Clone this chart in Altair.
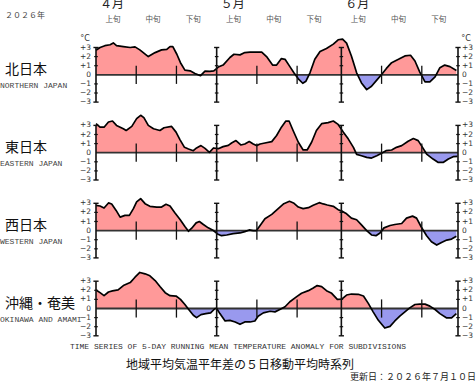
import altair as alt
import pandas as pd

# Positions are in days counted from the start of 1 April (30 = 1 May, 61 = 1 June, 90 = end of June).
north_days = [0, 1.0, 2.2, 3.5, 4.3, 5.1, 6.8, 8.5, 9.7, 10.9, 13.0, 14.7, 16.3, 17.6, 18.4, 19.1, 20.1, 21.0,
              22.1, 23.4, 24.6, 26.0, 27.1, 28.3, 29.3, 30.4, 31.6, 33.3, 34.3, 35.8, 37.0, 38.3, 39.9, 41.2,
              42.4, 43.9, 44.9, 46.1, 47.0, 48.2, 49.2, 50.3, 51.4, 52.2, 53.2, 54.4, 55.7, 57.3, 59.0, 60.2,
              61.3, 62.3, 63.5, 64.8, 66.0, 67.3, 68.5, 69.8, 71.0, 72.2, 73.5, 75.2, 76.8, 78.2, 79.3, 80.5,
              81.8, 83.0, 84.3, 85.5, 86.7, 88.0, 89.6]
north_vals = [2.7, 3.0, 3.2, 3.3, 3.5, 3.2, 3.1, 3.0, 3.07, 2.74, 2.0, 2.44, 2.74, 2.8, 3.1, 3.1, 2.26, 1.33,
              0.52, 0.44, 0.15, -0.1, 0.4, 0.37, 0.44, 0.85, 1.07, 1.9, 2.26, 2.19, 2.44, 2.5, 2.5, 2.5,
              2.0, 1.07, 1.07, 1.78, 1.7, 0.9, 0.22, -0.44, -0.93, -0.7, 0.22, 1.7, 2.55, 2.89, 3.37, 3.85,
              3.93, 3.48, 2.07, 0.22, -0.89, -1.63, -1.26, -0.59, 0.04, 0.7, 1.33, 1.7, 2.07, 2.15, 1.52, 0.3,
              -0.78, -0.78, -0.22, 0.78, 1.07, 0.9, 0.48]

east_days = [0, 1.0, 2.0, 3.1, 4.1, 5.1, 6.8, 7.5, 8.9, 10.1, 11.1, 11.9, 13.0, 14.3, 15.9, 16.9, 18.8, 19.9,
             20.9, 22.0, 23.0, 24.2, 25.0, 26.1, 27.1, 28.2, 29.2, 30.4, 31.6, 32.9, 33.7, 34.8, 36.0, 37.0,
             38.1, 39.1, 39.9, 40.8, 42.0, 43.7, 44.9, 46.1, 47.2, 48.0, 49.0, 50.3, 51.5, 52.5, 53.6, 54.8,
             56.1, 57.7, 59.0, 60.2, 61.5, 62.7, 64.0, 64.8, 66.0, 67.3, 68.5, 69.8, 71.0, 72.1, 73.5, 74.7,
             76.0, 77.6, 78.9, 80.1, 80.9, 82.2, 83.8, 85.1, 86.3, 87.6, 88.8, 89.9]
east_vals = [3.19, 2.8, 2.8, 3.37, 3.48, 3.0, 2.63, 2.44, 2.89, 3.74, 4.11, 3.85, 3.0, 2.63, 2.44, 2.74, 2.89, 2.26,
             1.41, 0.59, 0.41, 0.22, 0.52, 0.78, 0.48, 0.04, 0.52, 0.44, 0.67, 0.81, 1.07, 1.33, 0.85, 0.96,
             1.22, 0.96, 0.78, 0.96, 1.07, 1.22, 1.89, 2.81, 3.48, 3.48, 2.44, 1.15, 0.3, 0.3, 1.15, 2.44,
             3.19, 3.3, 3.48, 3.11, 2.26, 1.52, 0.59, -0.19, -0.33, -0.52, -0.59, -0.33, -0.07, 0.22, 0.3, 0.59,
             0.78, 1.26, 1.56, 1.33, 0.78, -0.15, -0.7, -1.07, -1.07, -0.7, -0.44, -0.41]

west_days = [0, 1.0, 2.0, 3.1, 3.9, 5.0, 6.0, 7.2, 8.3, 9.3, 10.1, 11.1, 12.2, 13.4, 15.1, 16.3, 17.4, 18.4,
             19.6, 20.9, 22.1, 23.0, 23.8, 24.9, 25.7, 26.7, 27.9, 29.2, 30.2, 31.2, 32.5, 34.1, 35.8, 37.0,
             38.1, 39.1, 39.9, 40.8, 42.0, 43.7, 45.3, 46.7, 48.1, 49.1, 50.3, 51.5, 52.8, 54.0, 55.5, 56.5,
             57.5, 59.0, 60.2, 61.3, 62.3, 63.5, 64.8, 66.0, 67.3, 68.5, 69.6, 70.6, 71.6, 73.1, 74.3, 76.0,
             77.2, 78.7, 79.7, 80.9, 82.2, 83.4, 84.7, 85.9, 87.2, 88.4, 89.6]
west_vals = [2.78, 2.7, 2.48, 3.04, 2.93, 2.22, 1.48, 1.67, 1.67, 2.41, 3.15, 3.52, 2.96, 2.67, 2.59, 2.59, 2.89, 2.7,
             1.96, 1.22, 0.44, -0.07, 0.26, 0.85, 1.0, 0.67, 0.3, 0.0, -0.37, -0.56, -0.48, -0.33, -0.26, -0.11,
             0.07, 0.0, 0.0, 0.56, 1.3, 1.78, 2.41, 2.96, 3.22, 3.04, 2.59, 2.41, 2.52, 2.78, 3.07, 2.93,
             2.81, 2.67, 2.3, 2.11, 1.85, 1.37, 1.19, 0.63, 0.0, -0.48, -0.56, -0.26, 0.3, 0.56, 0.67, 0.78,
             1.37, 1.59, 1.37, 0.37, -0.56, -1.22, -1.59, -1.3, -1.04, -0.93, -0.63]

okinawa_days = [0, 1.0, 2.0, 3.1, 4.1, 5.5, 6.8, 8.5, 9.7, 10.9, 12.2, 13.4, 14.7, 15.9, 17.2, 18.4, 19.9, 21.0,
                22.1, 23.2, 24.2, 25.0, 26.1, 27.3, 28.5, 29.6, 30.0, 30.8, 32.1, 33.3, 34.6, 35.8, 37.0, 38.3,
                39.5, 40.3, 41.6, 43.3, 44.5, 45.7, 47.0, 48.2, 49.9, 51.1, 52.8, 53.9, 55.0, 56.1, 57.3, 58.6,
                60.0, 61.1, 62.3, 63.5, 65.2, 66.5, 67.7, 68.9, 70.2, 71.8, 73.1, 74.3, 75.6, 76.8, 78.0, 79.3,
                80.5, 81.8, 83.0, 84.3, 85.5, 87.2, 88.4, 89.6]
okinawa_vals = [2.04, 1.74, 1.41, 1.81, 1.93, 2.04, 2.52, 2.85, 3.44, 3.96, 3.81, 3.59, 3.07, 2.41, 1.74, 1.41, 1.37, 1.0,
                0.44, -0.19, -0.74, -1.0, -0.67, -0.56, -0.48, 0.0, 0.0, -0.56, -1.37, -1.3, -1.48, -1.74, -1.48, -1.48,
                -1.37, -0.85, -0.48, -0.3, -0.37, -0.11, 0.19, 0.74, 1.3, 1.67, 1.96, 2.22, 2.52, 2.41, 1.96, 1.67,
                1.0, 1.04, 1.48, 1.59, 1.56, 1.37, 0.56, -0.37, -1.3, -2.15, -1.96, -1.37, -0.81, -0.37, 0.07, 0.44,
                0.48, 0.48, 0.26, -0.11, -0.56, -1.04, -1.04, -0.56]

region_names = ["北日本", "東日本", "西日本", "沖縄・奄美"]
region_names_en = ["NORTHERN JAPAN", "EASTERN JAPAN", "WESTERN JAPAN", "OKINAWA AND AMAMI"]
region_series = [(north_days, north_vals), (east_days, east_vals),
                 (west_days, west_vals), (okinawa_days, okinawa_vals)]

month_labels = ["４月", "５月", "６月"]
month_starts = [0, 30, 61]
month_bounds = [0, 30, 61, 90]
decade_labels = ["上旬", "中旬", "下旬"]
decade_bounds = [10, 20, 40, 50, 71, 81]
y_levels = [3, 2, 1, 0, -1, -2, -3]
y_level_text = ["+3", "+2", "+1", "0", "−1", "−2", "−3"]

# Layout (pixels)
W, H = 476, 382
X_LEFT, X_RIGHT = 96, 458
PANEL_ZERO = [74.8, 152.7, 230.6, 308.5]
HALF = 27.3          # pixels from 0 to ±3

RED = "#ff9999"
BLUE = "#9999ee"
JP_FONT = "Noto Sans CJK JP"
MONO = "Liberation Mono"

xscale = alt.Scale(domain=[0, 90], range=[X_LEFT, X_RIGHT])


def split_at_zero(days, vals):
    """Add the points where the line meets zero so both fills end exactly on the line."""
    out = []
    for i, (d, v) in enumerate(zip(days, vals)):
        if i > 0 and vals[i - 1] * v < 0:
            t = vals[i - 1] / (vals[i - 1] - v)
            out.append((days[i - 1] + t * (d - days[i - 1]), 0.0))
        out.append((d, v))
    return out


one = pd.DataFrame({"a": [0]})


def text_at(x, y, s, size, font, color="#222", align="left", weight="normal"):
    return alt.Chart(one).mark_text(
        align=align, baseline="middle", fontSize=size, font=font, color=color, fontWeight=weight
    ).encode(x=alt.value(x), y=alt.value(y), text=alt.value(s))


def panel(days, vals, zero_px, with_unit):
    ysc = alt.Scale(domain=[-3, 3], range=[zero_px + HALF, zero_px - HALF])
    X = alt.X("d:Q", scale=xscale, axis=None)

    pts = split_at_zero(days, vals)
    fill = pd.DataFrame({
        "d": [p[0] for p in pts],
        "pos": [max(p[1], 0.0) for p in pts],
        "neg": [min(p[1], 0.0) for p in pts],
        "zero": [0.0] * len(pts),
    })
    line_df = pd.DataFrame({"d": days, "v": vals})

    pos_area = alt.Chart(fill).mark_area(color=RED, opacity=1).encode(
        x=X, y=alt.Y("pos:Q", scale=ysc, axis=None), y2="zero:Q")
    neg_area = alt.Chart(fill).mark_area(color=BLUE, opacity=1).encode(
        x=X, y=alt.Y("neg:Q", scale=ysc, axis=None), y2="zero:Q")

    zero_line = alt.Chart(pd.DataFrame({"d": [0], "d2": [90], "y": [0]})).mark_rule(
        color="#333333", strokeWidth=1.8).encode(
        x=X, x2="d2:Q", y=alt.Y("y:Q", scale=ysc, axis=None))

    dec = pd.DataFrame({"d": decade_bounds, "lo": [-1] * 6, "hi": [1] * 6})
    dec_rules = alt.Chart(dec).mark_rule(color="#111", strokeWidth=1.3).encode(
        x=X, y=alt.Y("lo:Q", scale=ysc, axis=None), y2="hi:Q")

    mon = pd.DataFrame({"d": month_bounds, "lo": [-3] * 4, "hi": [3] * 4})
    mon_rules = alt.Chart(mon).mark_rule(color="#111", strokeWidth=1.6).encode(
        x=X, y=alt.Y("lo:Q", scale=ysc, axis=None), y2="hi:Q")

    inner = [(m, lv) for m in month_bounds for lv in [2, 1, -1, -2]]
    caps = [(m, lv) for m in month_bounds for lv in [3, -3]]
    tick_in = alt.Chart(pd.DataFrame({"d": [a for a, _ in inner], "y": [b for _, b in inner]})).mark_rule(
        color="#111", strokeWidth=1.2, xOffset=-1.8, x2Offset=1.8).encode(
        x=X, x2="d:Q", y=alt.Y("y:Q", scale=ysc, axis=None))
    tick_cap = alt.Chart(pd.DataFrame({"d": [a for a, _ in caps], "y": [b for _, b in caps]})).mark_rule(
        color="#111", strokeWidth=1.4, xOffset=-2.6, x2Offset=2.6).encode(
        x=X, x2="d:Q", y=alt.Y("y:Q", scale=ysc, axis=None))

    line = alt.Chart(line_df).mark_line(color="#000", strokeWidth=1.7, strokeJoin="round").encode(
        x=X, y=alt.Y("v:Q", scale=ysc, axis=None))

    lab = pd.DataFrame({"y": y_levels, "t": y_level_text})
    left_labels = alt.Chart(lab).mark_text(
        align="right", baseline="middle", fontSize=7.5, font="DejaVu Sans", color="#333").encode(
        x=alt.value(X_LEFT - 5), y=alt.Y("y:Q", scale=ysc, axis=None), text="t:N")
    right_labels = alt.Chart(lab).mark_text(
        align="left", baseline="middle", fontSize=7.5, font="DejaVu Sans", color="#333").encode(
        x=alt.value(X_RIGHT + 4), y=alt.Y("y:Q", scale=ysc, axis=None), text="t:N")

    layers = [pos_area, neg_area, zero_line, line, dec_rules, mon_rules, tick_in, tick_cap,
              left_labels, right_labels]
    if with_unit:
        layers.append(text_at(X_LEFT - 11, zero_px - HALF - 9, "°C", 8, "DejaVu Sans", "#333", "center"))
        layers.append(text_at(X_RIGHT + 8, zero_px - HALF - 9, "°C", 8, "DejaVu Sans", "#333", "center"))
    return alt.layer(*layers)


panels = []
labels = []
for i, ((days, vals), zpx) in enumerate(zip(region_series, PANEL_ZERO)):
    panels.append(panel(days, vals, zpx, i == 0))
    labels.append(text_at(5, zpx - 5, region_names[i], 14, JP_FONT, "#111"))
    labels.append(text_at(0, zpx + 11, region_names_en[i], 8, MONO, "#444"))

# Month and ten-day period headings along the top
mh = pd.DataFrame({"d": month_starts, "t": month_labels})
month_text = alt.Chart(mh).mark_text(
    align="left", baseline="middle", fontSize=12, font=JP_FONT, color="#222", dx=4).encode(
    x=alt.X("d:Q", scale=xscale, axis=None), y=alt.value(4), text="t:N")

dh = pd.DataFrame({
    "d": [m + off for m in month_starts for off in (4.2, 14.2, 24.2)],
    "t": decade_labels * 3,
})
decade_text = alt.Chart(dh).mark_text(
    align="center", baseline="middle", fontSize=7.5, font=JP_FONT, color="#555").encode(
    x=alt.X("d:Q", scale=xscale, axis=None), y=alt.value(20), text="t:N")

extras = [
    text_at(5, 16, "２０２６年", 8, JP_FONT, "#444"),
    text_at(238, 347, "TIME SERIES OF 5-DAY RUNNING MEAN TEMPERATURE ANOMALY FOR SUBDIVISIONS", 8, MONO, "#333",
            "center"),
    text_at(240, 365, "地域平均気温平年差の５日移動平均時系列", 12, JP_FONT, "#111", "center"),
    text_at(476, 377, "更新日：２０２６年７月１０日", 9, JP_FONT, "#222", "right"),
]

chart = alt.layer(*panels, *labels, month_text, decade_text, *extras).resolve_scale(
    y="independent"
).properties(
    width=W, height=H, padding=0, background="white",
    autosize=alt.AutoSizeParams(type="none"),
).configure_view(strokeWidth=0)

chart.save("out.html", embed_options={"renderer": "svg", "actions": False})
